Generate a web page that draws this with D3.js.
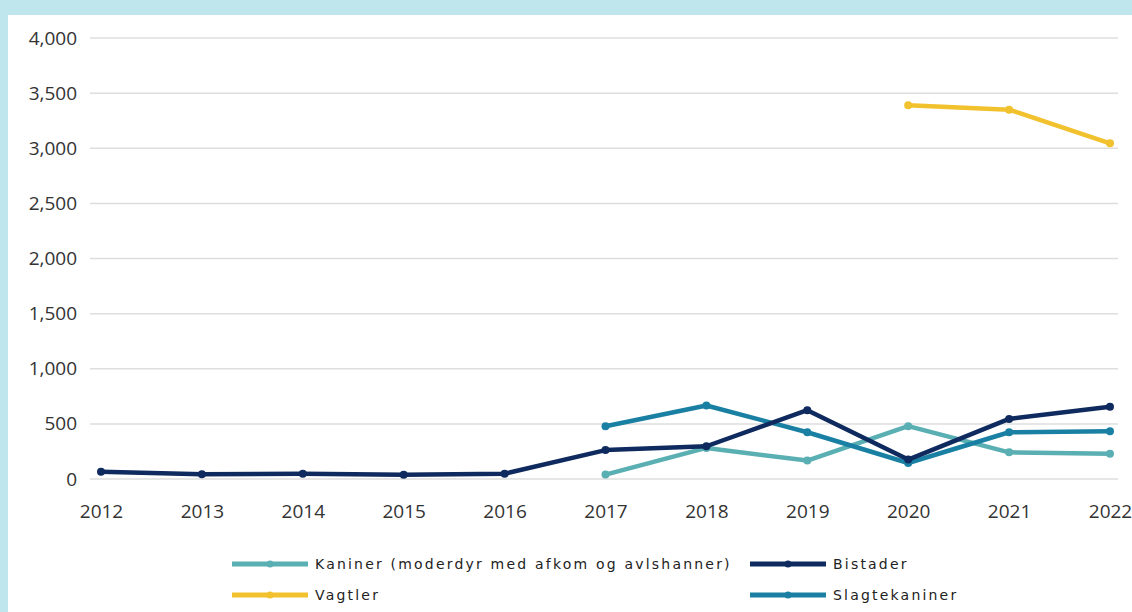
<!DOCTYPE html>
<html>
<head>
<meta charset="utf-8">
<script src="https://cdn.jsdelivr.net/npm/d3@7"></script>
<style>
  body { margin: 0; background: #bee6ec; }
  svg { display: block; }
  .tick text { font-family: "Open Sans", sans-serif; font-size: 19px; fill: #333; }
  .legend text { font-family: "DejaVu Sans", sans-serif; font-size: 14px; fill: #222; letter-spacing: 2.2px; }
</style>
</head>
<body>
<svg width="1132" height="612"></svg>
<script>
var years = [2012, 2013, 2014, 2015, 2016, 2017, 2018, 2019, 2020, 2021, 2022];
var yTicks = [0, 500, 1000, 1500, 2000, 2500, 3000, 3500, 4000];

// null = no value that year
var kaniner = [null, null, null, null, null, 40, 282, 167, 479, 242, 230];
var bistader = [65, 42, 47, 38, 48, 262, 297, 624, 176, 545, 655];
var vagtler = [null, null, null, null, null, null, null, null, 3390, 3350, 3045];
var slagtekaniner = [null, null, null, null, null, 479, 667, 424, 145, 424, 433];

var seriesNames = ["Kaniner (moderdyr med afkom og avlshanner)", "Bistader", "Vagtler", "Slagtekaniner"];
var seriesColors = ["#5aafb3", "#0f2a5e", "#f2c12e", "#1a80a3"];
var seriesValues = [kaniner, bistader, vagtler, slagtekaniner];

var svg = d3.select("svg");

svg.append("rect")
    .attr("x", 8).attr("y", 15)
    .attr("width", 1132 - 8).attr("height", 612 - 15)
    .attr("fill", "#fff");

var x = d3.scalePoint().domain(years).range([101, 1110]);
var y = d3.scaleLinear().domain([0, 4000]).range([479, 38]);

// gridlines
svg.append("g")
    .selectAll("line")
    .data(yTicks)
    .enter().append("line")
    .attr("x1", 90).attr("x2", 1118)
    .attr("y1", d => y(d)).attr("y2", d => y(d))
    .attr("stroke", "#dedede")
    .attr("stroke-width", 1.5);

var yAxis = svg.append("g")
    .attr("transform", "translate(80,0)")
    .call(d3.axisLeft(y).tickValues(yTicks).tickFormat(d3.format(",")).tickSize(0).tickPadding(3));
yAxis.select(".domain").remove();

var xAxis = svg.append("g")
    .attr("transform", "translate(0,480)")
    .call(d3.axisBottom(x).tickSize(0).tickPadding(25).tickFormat(d3.format("d")));
xAxis.select(".domain").remove();

var line = d3.line()
    .defined(d => d.v != null)
    .x(d => x(d.year))
    .y(d => y(d.v));

var drawOrder = [2, 0, 3, 1];
drawOrder.forEach(function (i) {
    var pts = years.map((yr, j) => ({ year: yr, v: seriesValues[i][j] }));
    var g = svg.append("g");
    g.append("path")
        .datum(pts)
        .attr("d", line)
        .attr("fill", "none")
        .attr("stroke", seriesColors[i])
        .attr("stroke-width", 4.5)
        .attr("stroke-linejoin", "round");
    g.selectAll("circle")
        .data(pts.filter(d => d.v != null))
        .enter().append("circle")
        .attr("cx", d => x(d.year))
        .attr("cy", d => y(d.v))
        .attr("r", 4)
        .attr("fill", seriesColors[i]);
});

// legend
var legendPos = [[232, 564], [750, 564], [232, 595], [750, 595]];
var legend = svg.append("g").attr("class", "legend");
seriesNames.forEach(function (name, i) {
    var p = legendPos[i];
    var lg = legend.append("g").attr("transform", "translate(" + p[0] + "," + p[1] + ")");
    lg.append("line")
        .attr("x1", 0).attr("x2", 76)
        .attr("stroke", seriesColors[i])
        .attr("stroke-width", 5);
    lg.append("circle")
        .attr("cx", 38).attr("r", 3.5)
        .attr("fill", seriesColors[i]);
    lg.append("text")
        .attr("x", 83).attr("dy", "0.36em")
        .text(name);
});
</script>
</body>
</html>
